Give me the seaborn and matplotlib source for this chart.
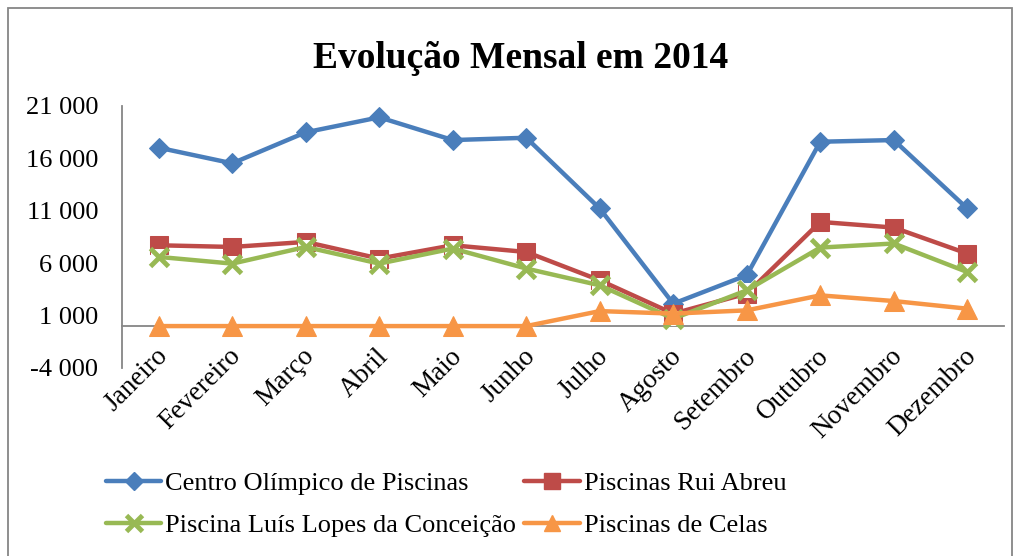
import pandas as pd
import matplotlib
matplotlib.use('Agg')
import matplotlib.pyplot as plt
import matplotlib.transforms as mtransforms
import seaborn as sns
from matplotlib.lines import Line2D
from matplotlib.patches import Rectangle
from matplotlib.ticker import FuncFormatter

# Data
meses = ['Janeiro', 'Fevereiro', 'Março', 'Abril', 'Maio', 'Junho', 'Julho',
         'Agosto', 'Setembro', 'Outubro', 'Novembro', 'Dezembro']
centro_olimpico = [17020, 15530, 18490, 19920, 17750, 17970, 11220, 2140, 4850, 17590, 17750, 11220]
rui_abreu = [7710, 7550, 8030, 6440, 7710, 7070, 4370, 1190, 3100, 9940, 9400, 6920]
luis_lopes = [6600, 5960, 7550, 5960, 7400, 5490, 3890, 710, 3410, 7490, 7880, 5160]
celas = [0, 0, 0, 0, 0, 0, 1430, 1190, 1500, 2930, 2390, 1660]
y_ticks = [-4000, 1000, 6000, 11000, 16000, 21000]

nomes = ['Centro Olímpico de Piscinas', 'Piscinas Rui Abreu',
         'Piscina Luís Lopes da Conceição', 'Piscinas de Celas']
cores = ['#4A7EBB', '#BE4B48', '#98B954', '#F79646']

df = pd.DataFrame({'mes': meses, nomes[0]: centro_olimpico, nomes[1]: rui_abreu,
                   nomes[2]: luis_lopes, nomes[3]: celas})

sns.set_style('white')
plt.rcParams['font.family'] = ['Liberation Serif', 'DejaVu Serif']
plt.rcParams['text.color'] = 'black'
plt.rcParams['xtick.color'] = 'black'
plt.rcParams['ytick.color'] = 'black'

fig = plt.figure(figsize=(10.21, 5.56), dpi=100)
ax = fig.add_axes([122 / 1021, 1 - 368 / 556, 882 / 1021, 262 / 556])

lw = 3.2
# series 1: diamonds
sns.lineplot(data=df, x='mes', y=nomes[0], sort=False, ax=ax, color=cores[0], lw=lw,
             marker='D', ms=10, mec=cores[0])
# series 2: squares
sns.lineplot(data=df, x='mes', y=nomes[1], sort=False, ax=ax, color=cores[1], lw=lw,
             marker='s', ms=13.5, mec=cores[1])
# Excel draws the x marker over a white box
sns.scatterplot(data=df, x='mes', y=nomes[2], ax=ax, marker='s', s=115, color='white',
                edgecolor='none', linewidth=0, zorder=2.5)
# series 3: crosses
sns.lineplot(data=df, x='mes', y=nomes[2], sort=False, ax=ax, color=cores[2], lw=lw,
             marker='x', ms=13, mew=3.5, mec=cores[2], zorder=2.6)
# series 4: triangles
sns.lineplot(data=df, x='mes', y=nomes[3], sort=False, ax=ax, color=cores[3], lw=lw,
             marker='^', ms=14, mec=cores[3], zorder=2.7)

ax.set_xlim(-0.5, len(meses) - 0.5)
ax.set_ylim(y_ticks[0], y_ticks[-1])
ax.set_yticks(y_ticks)
ax.yaxis.set_major_formatter(FuncFormatter(lambda v, p: f'{v:,.0f}'.replace(',', ' ')))
ax.set_xlabel('')
ax.set_ylabel('')

for s in ['top', 'right']:
    ax.spines[s].set_visible(False)
ax.spines['bottom'].set_position(('data', 0))
for s in ['left', 'bottom']:
    ax.spines[s].set_color('#868686')
    ax.spines[s].set_linewidth(1.3)
    ax.spines[s].set_zorder(1)

ax.tick_params(axis='y', length=0, pad=17, labelsize=19)
ax.tick_params(axis='x', length=0, pad=19, labelsize=19.5)
shift = mtransforms.ScaledTranslation(5 / 100, 0, fig.dpi_scale_trans)
for lab in ax.get_xticklabels():
    lab.set_rotation(45)
    lab.set_ha('right')
    lab.set_va('center')
    lab.set_rotation_mode('anchor')
    lab.set_transform(lab.get_transform() + shift)

fig.text(521 / 1021, 1 - 68 / 556, 'Evolução Mensal em 2014', ha='center', va='baseline',
         fontsize=27, fontweight='bold')

handles = [
    Line2D([], [], color=cores[0], lw=lw, marker='D', ms=9, mec=cores[0]),
    Line2D([], [], color=cores[1], lw=lw, marker='s', ms=12, mec=cores[1]),
    Line2D([], [], color=cores[2], lw=lw, marker='x', ms=12, mew=3.5, mec=cores[2]),
    Line2D([], [], color=cores[3], lw=lw, marker='^', ms=12, mec=cores[3]),
]
# row-major order like Excel: column 1 = series 1 and 3, column 2 = series 2 and 4
ordem = [0, 2, 1, 3]
fig.legend([handles[i] for i in ordem], [nomes[i] for i in ordem], ncol=2, loc='upper left',
           bbox_to_anchor=(106 / 1021, 1 - 472 / 556),
           frameon=False, fontsize=19, handlelength=2.1, handletextpad=0.15,
           columnspacing=0.3, labelspacing=0.68, borderpad=0, borderaxespad=0)

# chart area border
fig.patches.append(Rectangle((8 / 1021, -0.05), 1004 / 1021, 1.05 - 8 / 556,
                             transform=fig.transFigure, fill=False,
                             edgecolor='#868686', lw=1.3))

plt.savefig('out.png', dpi=100)
plt.close()
